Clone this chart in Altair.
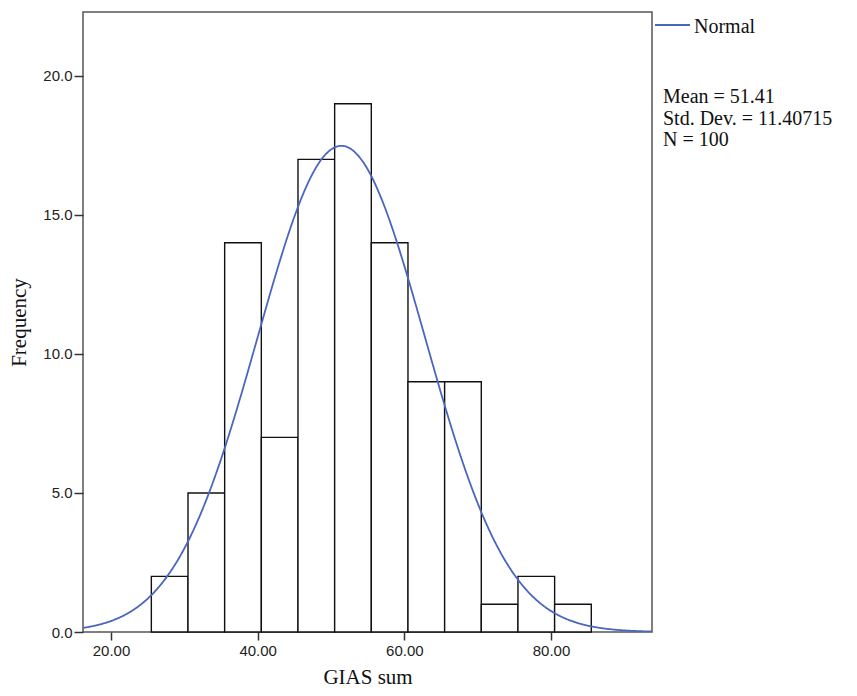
import altair as alt
import pandas as pd

# Histogram data (GIAS sum)
bin_starts = [25.5, 30.5, 35.5, 40.5, 45.5, 50.5, 55.5, 60.5, 65.5, 70.5, 75.5, 80.5]
counts = [2, 5, 14, 7, 17, 19, 14, 9, 9, 1, 2, 1]
bin_width = 5.0

# Normal-curve parameters shown on the chart
mean_val = 51.41
sd_val = 11.40715
n_val = 100

x_ticks = [20, 40, 60, 80]
y_ticks = [0, 5, 10, 15, 20]
x_domain = [16.18, 93.78]
y_domain = [0, 22.3]

stats_text = "Mean = 51.41\nStd. Dev. = 11.40715\nN = 100"
legend_label = "Normal"

W, H = 569, 620

hist_df = pd.DataFrame({
    "start": bin_starts,
    "end": [s + bin_width for s in bin_starts],
    "count": counts,
})

xscale = alt.Scale(domain=x_domain, nice=False, zero=False)
yscale = alt.Scale(domain=y_domain, nice=False)

x_axis = alt.Axis(
    values=x_ticks, format=".2f", title="GIAS sum", grid=False, domain=False,
    tickSize=8, tickColor="#333", tickWidth=1.5, labelPadding=3,
    labelFont="Liberation Sans", labelFontSize=15, labelColor="#222",
    titleFont="Liberation Serif", titleFontSize=21, titleFontWeight="normal",
    titleColor="#111", titleBaseline="alphabetic", titleY=51,
)
y_axis = alt.Axis(
    values=y_ticks, format=".1f", title="Frequency", grid=False, domain=False,
    tickSize=9, tickColor="#333", tickWidth=1.5, labelPadding=2,
    labelFont="Liberation Sans", labelFontSize=15, labelColor="#222",
    titleFont="Liberation Serif", titleFontSize=21, titleFontWeight="normal",
    titleColor="#111", titleBaseline="alphabetic", titleX=-58, titleAngle=270,
)

bars = alt.Chart(hist_df).mark_bar(
    fill="white", stroke="#111", strokeWidth=1.4
).encode(
    x=alt.X("start:Q", scale=xscale, axis=x_axis),
    x2="end:Q",
    y=alt.Y("count:Q", scale=yscale, axis=y_axis),
    y2=alt.datum(0),
)

curve = alt.Chart(alt.sequence(x_domain[0], x_domain[1] + 0.01, 0.1, as_="x")).transform_calculate(
    y=f"{n_val * bin_width} * exp(-0.5 * pow((datum.x - {mean_val}) / {sd_val}, 2)) / ({sd_val} * sqrt(2 * PI))"
).mark_line(color="#4a66bf", strokeWidth=1.8, clip=True).encode(
    x=alt.X("x:Q", scale=xscale),
    y=alt.Y("y:Q", scale=yscale),
)

one = pd.DataFrame({"k": [0]})

legend_line = alt.Chart(one).mark_rule(color="#4a66bf", strokeWidth=1.8).encode(
    x=alt.value(572), x2=alt.value(607), y=alt.value(13)
)
legend_text = alt.Chart(one).mark_text(
    align="left", baseline="alphabetic", font="Liberation Serif", fontSize=20, color="#111"
).encode(x=alt.value(611), y=alt.value(21), text=alt.value(legend_label))

stats = alt.Chart(one).mark_text(
    align="left", baseline="alphabetic", font="Liberation Serif", fontSize=20,
    color="#111", lineBreak="\n", lineHeight=21.5
).encode(x=alt.value(580), y=alt.value(91), text=alt.value(stats_text))

chart = alt.layer(bars, curve, legend_line, legend_text, stats).properties(
    width=W, height=H,
    background="white",
    autosize=alt.AutoSizeParams(type="none"),
    padding={"left": 75, "top": 4, "right": 197, "bottom": 56},
).configure_view(stroke="#555555", strokeWidth=1.5)

chart.save("out.html", embed_options={"renderer": "svg", "actions": False})
